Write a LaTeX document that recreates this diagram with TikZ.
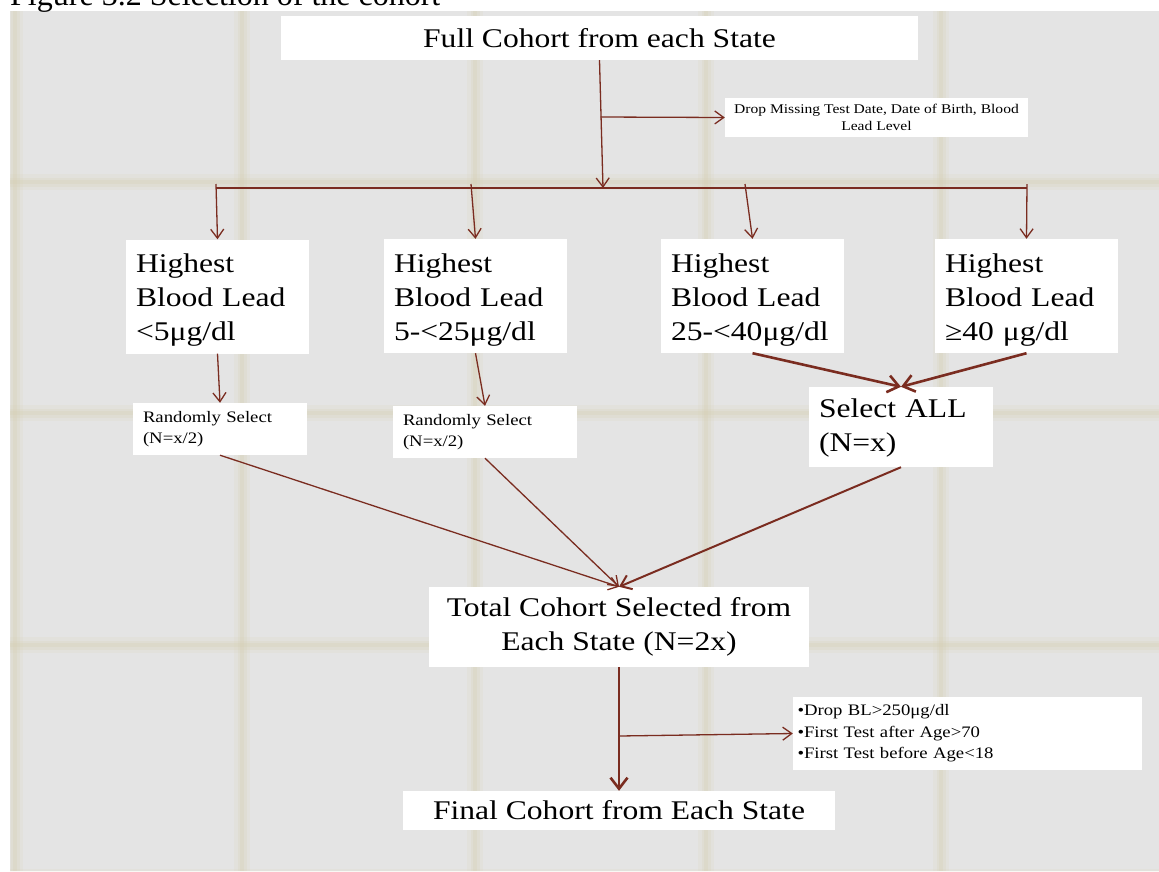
\documentclass[tikz,border=0pt]{standalone}
\usepackage{fontspec}
\setmainfont{Liberation Serif}
\newfontfamily\pal[FakeStretch=1.17]{Liberation Serif}
\usetikzlibrary{arrows.meta,calc}
\definecolor{panelgray}{RGB}{228,228,228}
\definecolor{beigecore}{RGB}{214,208,178}
\definecolor{arrowred}{RGB}{122,44,32}
\begin{document}
\begin{tikzpicture}[x=1pt,y=-1pt,
  whitebox/.style={fill=white, draw=none, inner sep=0pt, align=center,
    font=\pal\fontsize{27pt}{34pt}\selectfont},
  leftbox/.style={whitebox, align=left},
  smallbox/.style={fill=white, draw=none, inner sep=0pt, align=left,
    font=\pal\fontsize{16pt}{21pt}\selectfont},
  tinybox/.style={fill=white, draw=none, inner sep=0pt, align=center,
    font=\pal\fontsize{13.3pt}{17pt}\selectfont},
  thinarr/.style={draw=arrowred, line width=1.3pt, -{Straight Barb[length=9pt,width=13pt]}},
  midarr/.style={draw=arrowred, line width=2pt, -{Straight Barb[length=10pt,width=15pt]}},
  thickarr/.style={draw=arrowred, line width=2.6pt, -{Straight Barb[length=11pt,width=17pt]}},
  barline/.style={draw=arrowred, line width=2pt},
  gridhalo/.style={draw=beigecore, line width=16pt, opacity=0.14},
  gridmid/.style={draw=beigecore, line width=9pt, opacity=0.2},
  gridcore/.style={draw=beigecore, line width=4pt, opacity=0.25}
]
\useasboundingbox (0,0) rectangle (1159,871);
% background
\fill[white] (0,0) rectangle (1159,871);
\fill[panelgray] (10,11) rectangle (1159,871);
\begin{scope}
  \clip (10,11) rectangle (1159,871);
  \foreach \gx in {15,242,475,706,941} {
    \draw[gridhalo] (\gx,11) -- (\gx,871);
    \draw[gridmid] (\gx,11) -- (\gx,871);
    \draw[gridcore] (\gx,11) -- (\gx,871);
  }
  \foreach \gy in {182,413,645,877} {
    \draw[gridhalo] (10,\gy) -- (1159,\gy);
    \draw[gridmid] (10,\gy) -- (1159,\gy);
    \draw[gridcore] (10,\gy) -- (1159,\gy);
  }
\end{scope}
% caption
\node[anchor=base west, inner sep=0pt, font=\fontsize{32pt}{36pt}\selectfont] (cap) at (10,5) {Figure 3.2 Selection of the cohort};
% boxes
\node[whitebox, minimum width=637, minimum height=44] (full) at (599.5,38) {Full Cohort from each State};
\node[tinybox, minimum width=303, minimum height=39] (drop) at (876.5,117.5) {Drop Missing Test Date, Date of Birth, Blood\\Lead Level};
\node[leftbox, text width=163, minimum width=183, minimum height=114] (h1) at (217.5,296.5) {\rule{0pt}{26pt}Highest\\Blood Lead\\<5μg/dl};
\node[leftbox, text width=163, minimum width=183, minimum height=114] (h2) at (475.5,296) {\rule{0pt}{26pt}Highest\\Blood Lead\\5-<25μg/dl};
\node[leftbox, text width=163, minimum width=183, minimum height=114] (h3) at (752.5,296) {\rule{0pt}{26pt}Highest\\Blood Lead\\25-<40μg/dl};
\node[leftbox, text width=163, minimum width=183, minimum height=114] (h4) at (1026.5,296) {\rule{0pt}{26pt}Highest\\Blood Lead\\≥40 μg/dl};
\node[smallbox, text width=154, minimum width=174, minimum height=52] (rs1) at (220,429) {Randomly Select\\(N=x/2)};
\node[smallbox, text width=164, minimum width=184, minimum height=52] (rs2) at (485,432) {Randomly Select\\(N=x/2)};
\node[leftbox, text width=164, minimum width=184, minimum height=80] (sel) at (901,427) {\rule{0pt}{21pt}Select ALL\\(N=x)};
\node[whitebox, minimum width=380, minimum height=80] (total) at (619,627) {Total Cohort Selected from\\Each State (N=2x)};
\node[smallbox, text width=340, minimum width=349, minimum height=73, font=\pal\fontsize{16pt}{21.5pt}\selectfont] (bul) at (967.5,733.5) {•Drop BL>250μg/dl\\•First Test after Age>70\\•First Test before Age<18};
\node[whitebox, minimum width=432, minimum height=39] (final) at (619,810.5) {Final Cohort from Each State};
% connectors
\coordinate (jn) at (603,188);
\coordinate (dj) at (600.5,117);
\coordinate (barL) at (216,188);
\coordinate (barR) at (1027,188);
\coordinate (t1) at (216,184);
\coordinate (t2) at (471,184);
\coordinate (t3) at (745,184);
\coordinate (t4) at (1027,184);
\coordinate (bj) at (619,736);
\draw[barline] (barL) -- (barR);
\draw[thinarr] (full.south) -- (jn);
\draw[thinarr] (dj) -- (drop.west);
\draw[thinarr] (t1) -- (h1.north);
\draw[thinarr] (t2) -- (h2.north);
\draw[thinarr] (t3) -- (h3.north);
\draw[thinarr] (t4) -- (h4.north);
\draw[thinarr] (h1.south) -- (rs1.north);
\draw[thinarr] (h2.south) -- (rs2.north);
\draw[thickarr] (h3.south) -- (sel.north);
\draw[thickarr] (h4.south) -- (sel.north);
\draw[thinarr] (rs1.south) -- (total.north);
\draw[thinarr] (rs2.south) -- (total.north);
\draw[midarr] (sel.south) -- (total.north);
\draw[thickarr] (total.south) -- (final.north);
\draw[thinarr] (bj) -- (bul.west);
\end{tikzpicture}
\end{document}
